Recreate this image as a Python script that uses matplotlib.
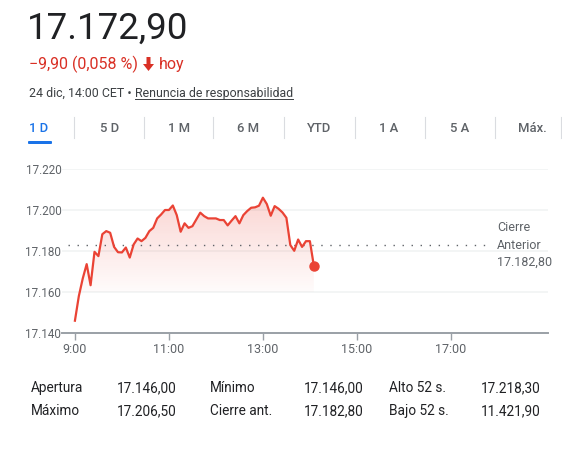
import matplotlib
matplotlib.use("Agg")
import matplotlib.pyplot as plt
import numpy as np
from matplotlib.patches import Polygon, FancyBboxPatch
from matplotlib.lines import Line2D

plt.rcParams["font.family"] = ["Roboto", "DejaVu Sans"]

# ---- data -------------------------------------------------------------
price_last = "17.172,90"
change_text = "\u22129,90 (0,058 %)"
date_text = "24 dic, 14:00 CET \u2022 "
disclaimer = "Renuncia de responsabilidad"

tabs = ["1 D", "5 D", "1 M", "6 M", "YTD", "1 A", "5 A", "Máx."]

# minutes after 9:00, 5-minute steps
minutes = np.arange(0, 310, 5)
prices = [
    17146.0, 17158.0, 17166.6, 17173.6, 17163.3, 17179.6, 17177.5, 17188.2,
    17189.7, 17188.9, 17182.0, 17179.4, 17179.3, 17181.7, 17176.8, 17183.2,
    17186.1, 17184.8, 17186.4, 17189.7, 17191.3, 17195.9, 17197.8, 17200.0,
    17200.0, 17202.2, 17197.5, 17189.4, 17193.5, 17191.3, 17192.1, 17195.4,
    17198.7, 17197.0, 17195.9, 17195.9, 17195.9, 17195.1, 17195.1, 17192.5,
    17194.8, 17197.0, 17193.5, 17197.5, 17199.5, 17201.1, 17201.3, 17202.1,
    17206.0, 17202.9, 17197.2, 17201.9, 17200.6, 17198.8, 17196.2, 17182.9,
    17180.1, 17185.6, 17182.0, 17184.8, 17184.8, 17172.9,
]
prev_close = 17182.8

y_ticks = [17140, 17160, 17180, 17200, 17220]
x_ticks = [0, 120, 240, 360, 480]
x_labels = ["9:00", "11:00", "13:00", "15:00", "17:00"]

stats = [
    ("Apertura", "17.146,00", "Mínimo", "17.146,00", "Alto 52 s.", "17.218,30"),
    ("Máximo", "17.206,50", "Cierre ant.", "17.182,80", "Bajo 52 s.", "11.421,90"),
]

# ---- figure -----------------------------------------------------------
W, H = 562, 449
fig = plt.figure(figsize=(W / 100, H / 100), dpi=100)
fig.patch.set_facecolor("white")


def fx(x):
    return x / W


def fy(y):
    return 1 - y / H


RED = "#d93025"
LINE_RED = "#ea4335"
DARK = "#202124"
GRAY = "#5f6368"
BLUE = "#1a73e8"

# header
fig.text(fx(27), fy(29), price_last, fontsize=26.5, color=DARK, va="center")
tc = fig.text(fx(29), fy(64), change_text, fontsize=11.5, color=RED,
              va="center")
t1 = fig.text(fx(29), fy(93), date_text, fontsize=8.9, color="#3c4043",
              va="center")
fig.canvas.draw()
r = fig.canvas.get_renderer()

# bold down arrow after the change text, then "hoy"
ax0 = tc.get_window_extent(r).x1 + 5
arrow_px = [(ax0 + 3.5, 57), (ax0 + 7.5, 57), (ax0 + 7.5, 64),
            (ax0 + 11, 64), (ax0 + 5.5, 71), (ax0, 64), (ax0 + 3.5, 64)]
fig.add_artist(Polygon([(fx(x), fy(y)) for x, y in arrow_px], closed=True,
                       color=RED, lw=0))
fig.text(fx(ax0 + 16), fy(64), "hoy", fontsize=11.5, color=RED, va="center")

bb = t1.get_window_extent(r)
t2 = fig.text(bb.x1 / W, fy(93), disclaimer, fontsize=8.9, color="#3c4043",
              va="center")
bb2 = t2.get_window_extent(r)
fig.add_artist(Line2D([bb2.x0 / W, bb2.x1 / W], [fy(99), fy(99)],
                      color="#3c4043", lw=0.7))

# tabs
tab_x = [39, 110, 179, 248, 319, 389, 460, 532]
sep_x = [74, 144, 213, 284, 355, 425, 495, 561]
for lab, x in zip(tabs, tab_x):
    fig.text(fx(x), fy(128), lab, fontsize=9.4, fontweight="medium",
             color=BLUE if lab == "1 D" else GRAY, ha="center", va="center")
for x in sep_x:
    fig.add_artist(Line2D([fx(x), fx(x)], [fy(117), fy(138)],
                          color="#dadce0", lw=0.8))
fig.add_artist(FancyBboxPatch((fx(28), fy(144)), fx(24), 3 / H,
                              boxstyle="round,pad=0,rounding_size=0.002",
                              color=BLUE, lw=0))

# chart axes
ax = fig.add_axes([fx(62), fy(333), fx(548 - 62), (333 - 169) / H])
ax.set_xlim(-16.5, 604)
ax.set_ylim(17140, 17220)
for s in ["top", "right", "left"]:
    ax.spines[s].set_visible(False)
ax.spines["bottom"].set_color("#9aa0a6")
ax.spines["bottom"].set_linewidth(1.4)
ax.set_yticks(y_ticks)
ax.set_yticklabels([f"{v:,.0f}".replace(",", ".") for v in y_ticks])
ax.set_xticks(x_ticks)
ax.set_xticklabels(x_labels)
ax.tick_params(axis="y", length=0, pad=0.5, labelsize=8.4, labelcolor=GRAY)
ax.tick_params(axis="x", length=5, width=1, color="#9aa0a6", pad=2,
               labelsize=9, labelcolor=GRAY)
for v in y_ticks[1:]:
    ax.axhline(v, color="#f1f3f4", lw=1.2, zorder=0)

# gradient fill under the line
base = 17160
grad = np.linspace(0, 1, 200).reshape(-1, 1)
rgba = np.zeros((200, 1, 4))
rgba[..., 0] = 0.92
rgba[..., 1] = 0.26
rgba[..., 2] = 0.21
rgba[..., 3] = 0.02 + 0.2 * grad
img = ax.imshow(rgba, extent=[minutes[0], minutes[-1], base, max(prices)],
                origin="lower", aspect="auto", zorder=1)
verts = list(zip(minutes, prices)) + [(minutes[-1], base), (minutes[0], base)]
clip = Polygon(verts, closed=True, transform=ax.transData, facecolor="none",
               edgecolor="none")
ax.add_patch(clip)
img.set_clip_path(clip)

ax.plot(minutes, prices, color=LINE_RED, lw=1.6, zorder=3,
        solid_joinstyle="round", clip_on=False)
ax.plot(minutes[-1], prices[-1], "o", color=LINE_RED, ms=6.5, zorder=4,
        clip_on=False)

ax.axhline(prev_close, xmin=0.012, xmax=0.885, color=GRAY, lw=1.0,
           ls=(0, (1, 5.5)), zorder=2)
ax.text(0.895, prev_close, "Cierre\nAnterior\n17.182,80",
        transform=ax.get_yaxis_transform(), fontsize=9, color=GRAY,
        va="center", ha="left", linespacing=1.45)

# stats table
col_x = [31, 117, 210, 304, 389, 481]
row_y = [388, 411]
for row, y in zip(stats, row_y):
    for txt, x in zip(row, col_x):
        fig.text(fx(x), fy(y), txt, fontsize=9.8, color=DARK, va="center")

fig.savefig("out.png", dpi=100, facecolor="white")
